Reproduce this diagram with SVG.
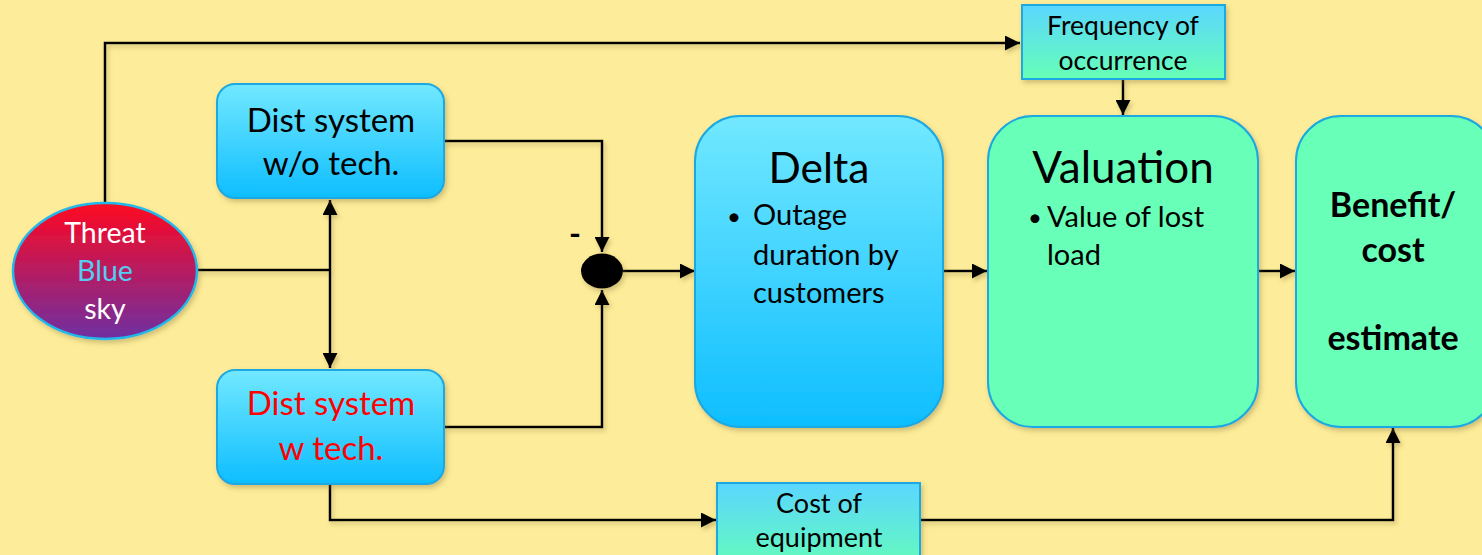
<svg xmlns="http://www.w3.org/2000/svg" width="1482" height="555" viewBox="0 0 1482 555">
<defs>
<linearGradient id="gBlue" x1="0" y1="0" x2="0" y2="1"><stop offset="0" stop-color="#72E8FF"/><stop offset="1" stop-color="#0EBEFF"/></linearGradient>
<linearGradient id="gThreat" x1="0" y1="0" x2="0" y2="1"><stop offset="0" stop-color="#FF0820"/><stop offset="1" stop-color="#6E30A2"/></linearGradient>
<linearGradient id="gSmall" x1="0" y1="0" x2="0" y2="1"><stop offset="0" stop-color="#5AD6FF"/><stop offset="1" stop-color="#66FFB6"/></linearGradient>
<filter id="sh" x="-10%" y="-10%" width="130%" height="130%"><feDropShadow dx="2" dy="3" stdDeviation="2.5" flood-color="#7a6a30" flood-opacity="0.35"/></filter>
<filter id="lsh" filterUnits="userSpaceOnUse" x="0" y="0" width="1482" height="555"><feDropShadow dx="2" dy="3" stdDeviation="2" flood-color="#7a6a30" flood-opacity="0.35"/></filter>
<marker id="ah" viewBox="0 0 10 10" refX="10" refY="5" markerWidth="6" markerHeight="6" markerUnits="strokeWidth" orient="auto-start-reverse"><path d="M0,0 L10,5 L0,10 Z" fill="#000"/></marker>
</defs>
<style>
.box{stroke:#1AA8E0;stroke-width:2;filter:url(#sh)}
.t{font-family:Lato,"Noto Sans",sans-serif;text-anchor:middle;fill:#000}
.b{font-family:Lato,"Noto Sans",sans-serif;fill:#000}
.c{fill:none;stroke:#000;stroke-width:2.5}
</style>
<rect width="1482" height="555" fill="#FDEC99"/>
<g id="connectors" filter="url(#lsh)">
<polyline class="c" points="105,203 105,43 1020,43" marker-end="url(#ah)"/>
<line class="c" x1="1123" y1="79" x2="1123" y2="115" marker-end="url(#ah)"/>
<line class="c" x1="197" y1="270" x2="330" y2="270"/>
<line class="c" x1="330" y1="200" x2="330" y2="368" marker-start="url(#ah)" marker-end="url(#ah)"/>
<polyline class="c" points="444,141 602,141 602,252" marker-end="url(#ah)"/>
<polyline class="c" points="444,427 602,427 602,290" marker-end="url(#ah)"/>
<line class="c" x1="622" y1="271" x2="695" y2="271" marker-end="url(#ah)"/>
<line class="c" x1="943" y1="271" x2="987" y2="271" marker-end="url(#ah)"/>
<line class="c" x1="1258" y1="271" x2="1295" y2="271" marker-end="url(#ah)"/>
<polyline class="c" points="330,484 330,520 716,520" marker-end="url(#ah)"/>
<polyline class="c" points="920,520 1393,520 1393,428" marker-end="url(#ah)"/>
</g>
<g id="threat">
<ellipse cx="105" cy="271" rx="92" ry="68" fill="url(#gThreat)" stroke="#22B8EA" stroke-width="2.5" filter="url(#sh)"/>
<text class="t" x="105" y="243" font-size="28.5" style="fill:#fff">Threat</text>
<text class="t" x="105" y="281" font-size="28.5" style="fill:#55CCF2">Blue</text>
<text class="t" x="105" y="319" font-size="28.5" style="fill:#fff">sky</text>
</g>
<g id="wo-tech">
<rect class="box" x="217" y="84" width="227" height="114" rx="18" fill="url(#gBlue)"/>
<text class="t" x="331" y="132" font-size="33">Dist system</text>
<text class="t" x="331" y="175" font-size="33">w/o tech.</text>
</g>
<g id="w-tech">
<rect class="box" x="217" y="370" width="227" height="114" rx="18" fill="url(#gBlue)"/>
<text class="t" x="331" y="415" font-size="33" style="fill:#FF0000">Dist system</text>
<text class="t" x="331" y="460" font-size="33" style="fill:#FF0000">w tech.</text>
</g>
<g id="sum">
<ellipse cx="602" cy="271" rx="21" ry="17.5" fill="#000" filter="url(#sh)"/>
<text class="t" x="575" y="245" font-size="32" font-weight="bold">-</text>
</g>
<g id="frequency">
<rect class="box" x="1022" y="5" width="203" height="74" fill="url(#gSmall)"/>
<text class="t" x="1123" y="35" font-size="26.5">Frequency of</text>
<text class="t" x="1123" y="70" font-size="26.5">occurrence</text>
</g>
<g id="delta">
<rect class="box" x="695" y="116" width="248" height="311" rx="45" fill="url(#gBlue)"/>
<text class="t" x="819" y="183" font-size="42.5">Delta</text>
<text class="b" x="727" y="225" font-size="24">•</text>
<text class="b" x="753" y="225" font-size="29">Outage</text>
<text class="b" x="753" y="265" font-size="29">duration by</text>
<text class="b" x="753" y="303" font-size="29">customers</text>
</g>
<g id="valuation">
<rect class="box" x="988" y="116" width="270" height="311" rx="45" fill="#68FFB8"/>
<text class="t" x="1123" y="183" font-size="44">Valuation</text>
<text class="b" x="1028" y="226" font-size="24">•</text>
<text class="b" x="1047" y="227" font-size="29">Value of lost</text>
<text class="b" x="1047" y="265" font-size="29">load</text>
</g>
<g id="benefit">
<rect class="box" x="1296" y="116" width="200" height="311" rx="45" fill="#68FFB8"/>
<text class="t" x="1393" y="217" font-size="34" font-weight="bold">Benefit/</text>
<text class="t" x="1393" y="262" font-size="34" font-weight="bold">cost</text>
<text class="t" x="1393" y="350" font-size="34" font-weight="bold">estimate</text>
</g>
<g id="cost">
<rect class="box" x="717" y="483" width="203" height="90" fill="url(#gSmall)"/>
<text class="t" x="819" y="513" font-size="27">Cost of</text>
<text class="t" x="819" y="547" font-size="27">equipment</text>
</g>
</svg>
